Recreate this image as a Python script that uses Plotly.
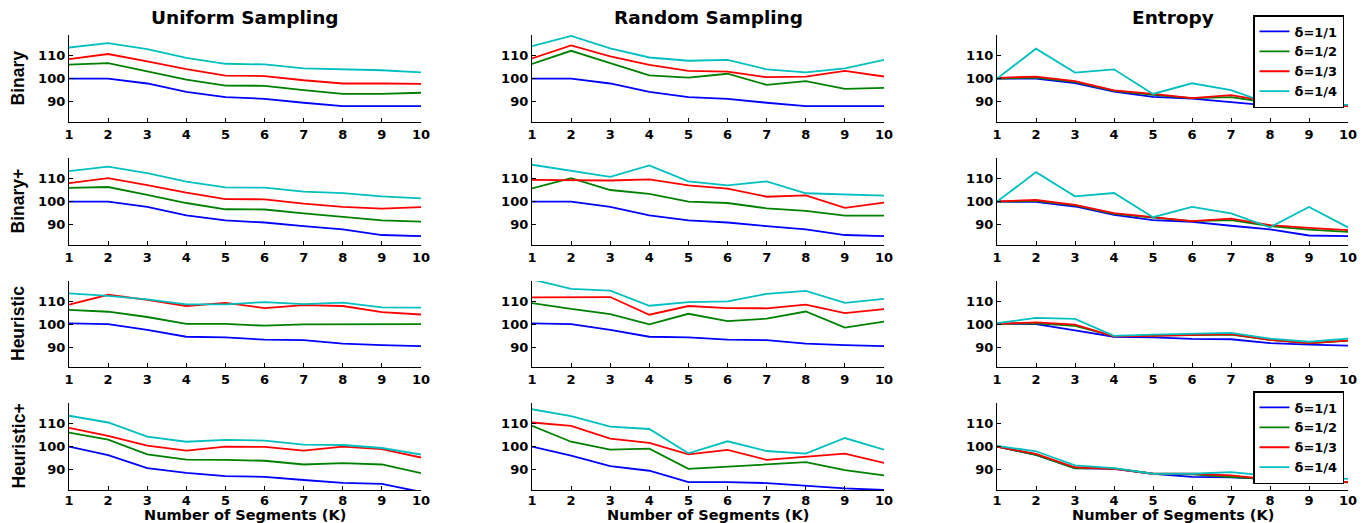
import plotly.graph_objects as go

K = list(range(1, 11))
deltas = ["δ=1/1", "δ=1/2", "δ=1/3", "δ=1/4"]
colors = ["#0000FF", "#008000", "#FF0000", "#00BFBF"]
col_titles = ["Uniform Sampling", "Random Sampling", "Entropy"]
row_titles = ["Binary", "Binary+", "Heuristic", "Heuristic+"]
y_ticks = [90, 100, 110]
x_title = "Number of Segments (K)"

# each panel: [δ=1/1, δ=1/2, δ=1/3, δ=1/4]
binary_uniform = [
    [100, 100, 97.9, 94.3, 92.0, 91.3, 89.6, 88.1, 88.1, 88.1],
    [106, 106.7, 103.1, 99.6, 97.0, 96.9, 95.0, 93.4, 93.4, 93.9],
    [108.4, 110.6, 107.4, 104.1, 101.3, 101.1, 99.3, 97.9, 97.9, 97.7],
    [113.4, 115.3, 112.7, 108.9, 106.4, 106.1, 104.4, 103.9, 103.6, 102.7],
]
binary_random = [
    [100, 100, 97.9, 94.3, 92.0, 91.3, 89.6, 88.1, 88.1, 88.1],
    [106.3, 112.0, 106.7, 101.4, 100.4, 102.1, 97.3, 98.9, 95.6, 96.0],
    [108.7, 114.3, 109.6, 105.9, 103.3, 103.0, 100.6, 100.9, 103.3, 100.9],
    [114.0, 118.4, 113.0, 109.1, 107.7, 108.1, 104.0, 102.7, 104.4, 108.1],
]
binary_entropy = [
    [100, 100, 98.1, 94.4, 92.1, 91.4, 89.9, 88.4, 88.4, 88.4],
    [100, 100.4, 98.6, 94.7, 93.0, 91.6, 92.0, 89.6, 88.3, 88.3],
    [100.3, 100.9, 98.9, 94.9, 93.4, 91.6, 92.9, 90.1, 88.4, 88.2],
    [100, 112.9, 102.6, 104.0, 93.4, 98.0, 95.0, 89.1, 88.7, 88.7],
]
binaryp_uniform = [
    [100, 100, 97.7, 94.1, 91.9, 91.0, 89.4, 88.0, 85.6, 85.1],
    [105.9, 106.3, 102.9, 99.4, 96.7, 96.6, 94.9, 93.3, 91.9, 91.4],
    [108.0, 110.1, 107.1, 103.9, 101.1, 101.0, 99.1, 97.7, 97.0, 97.6],
    [113.1, 115.1, 112.3, 108.6, 106.1, 106.0, 104.3, 103.7, 102.3, 101.4],
]
binaryp_random = [
    [100, 100, 97.7, 94.1, 91.9, 91.0, 89.4, 88.0, 85.6, 85.1],
    [105.7, 110.1, 105.0, 103.3, 100.0, 99.4, 97.1, 96.0, 94.0, 94.0],
    [109.4, 109.1, 109.1, 109.6, 107.0, 105.6, 102.1, 102.7, 97.3, 99.6],
    [115.9, 113.3, 110.7, 115.6, 108.7, 107.0, 108.7, 103.6, 103.1, 102.6],
]
binaryp_entropy = [
    [100, 99.9, 97.9, 94.3, 92.0, 91.3, 89.6, 88.0, 85.4, 85.1],
    [100, 100.3, 98.4, 94.7, 93.1, 91.6, 92.0, 89.4, 87.9, 87.0],
    [100.1, 100.7, 98.6, 95.0, 93.3, 91.6, 92.7, 89.9, 88.7, 87.7],
    [100, 112.7, 102.3, 103.7, 93.3, 97.7, 94.9, 88.9, 97.7, 88.9],
]
heur_uniform = [
    [100.3, 100, 97.5, 94.5, 94.2, 93.2, 93.0, 91.5, 90.8, 90.4],
    [106.2, 105.4, 103.1, 100.1, 100.1, 99.3, 99.9, 100, 100, 100],
    [108.5, 112.8, 110.6, 107.9, 109.3, 107.0, 108.3, 107.9, 105.2, 104.2],
    [113.4, 112.3, 110.8, 108.6, 108.6, 109.6, 108.7, 109.4, 107.3, 107.2],
]
heur_random = [
    [100.3, 100, 97.5, 94.5, 94.2, 93.2, 93.0, 91.5, 90.8, 90.4],
    [109.2, 106.6, 104.4, 99.9, 104.5, 101.3, 102.4, 105.5, 98.5, 101.1],
    [111.7, 111.7, 111.8, 104.1, 107.9, 107.0, 106.9, 108.5, 104.8, 106.5],
    [119.5, 115.4, 114.6, 108.0, 109.6, 109.9, 113.2, 114.5, 109.3, 111.0],
]
heur_entropy = [
    [100.3, 100, 97.3, 94.5, 94.2, 93.6, 93.4, 91.7, 91.1, 90.6],
    [100.1, 100.3, 99.2, 94.8, 95.0, 95.2, 95.4, 93.1, 91.6, 92.8],
    [100.1, 100.8, 99.8, 94.7, 94.9, 95.2, 95.6, 93.1, 91.7, 92.8],
    [100.4, 102.7, 102.3, 94.9, 95.4, 95.8, 96.2, 93.7, 92.3, 93.7],
]
heurp_uniform = [
    [100, 96.3, 90.7, 88.7, 87.3, 87.0, 85.6, 84.4, 83.9, 80.5],
    [106.0, 103.0, 96.7, 94.4, 94.3, 93.9, 92.3, 92.9, 92.3, 88.6],
    [108.1, 104.6, 100.4, 98.3, 100.0, 99.9, 98.3, 100.0, 98.9, 95.3],
    [113.3, 110.4, 104.3, 102.1, 102.9, 102.6, 100.9, 100.7, 99.4, 96.6],
]
heurp_random = [
    [100, 96.1, 91.6, 89.6, 84.7, 84.7, 84.3, 83.0, 82.0, 81.3],
    [109.0, 102.1, 98.7, 99.1, 90.4, 91.3, 92.3, 93.3, 89.9, 87.6],
    [110.4, 108.9, 103.4, 101.6, 96.7, 98.6, 94.3, 95.7, 97.0, 93.0],
    [116.1, 113.1, 108.6, 107.6, 97.1, 102.3, 98.1, 97.0, 103.7, 98.7],
]
heurp_entropy = [
    [100, 96.4, 90.7, 90.4, 88.3, 87.0, 86.7, 85.9, 85.1, 84.6],
    [100, 96.4, 90.6, 90.6, 88.3, 88.0, 86.9, 85.9, 85.1, 84.7],
    [100, 96.9, 91.1, 90.4, 88.3, 88.3, 87.6, 85.9, 85.1, 84.7],
    [100.3, 98.0, 91.9, 90.7, 88.3, 88.3, 89.0, 87.4, 86.9, 86.1],
]

panels = [
    [binary_uniform, binary_random, binary_entropy],
    [binaryp_uniform, binaryp_random, binaryp_entropy],
    [heur_uniform, heur_random, heur_entropy],
    [heurp_uniform, heurp_random, heurp_entropy],
]

# page is 1372x523; the html body has an 8px margin, so the figure is made
# smaller and every page coordinate is shifted by that margin
OFF = 8
W, H = 1372 - OFF, 523 - OFF
col_px = [(69, 421), (532, 884), (997, 1348)]
row_px = [(35, 122), (158, 245), (281, 367), (403, 490)]
YR = [81.3, 118.8]
FONT = "DejaVu Sans"
ROWFONT = "Liberation Sans"


def px_x(p):
    return (p - OFF) / W


def px_y(p):
    return 1 - (p - OFF) / H


fig = go.Figure()
layout = dict(
    width=W, height=H, margin=dict(l=0, r=0, t=0, b=0, pad=0),
    paper_bgcolor="white", plot_bgcolor="white",
    font=dict(family=FONT, size=13, color="black", weight="bold"),
)

idx = 0
for r in range(4):
    for c in range(3):
        idx += 1
        xa = "x" if idx == 1 else f"x{idx}"
        ya = "y" if idx == 1 else f"y{idx}"
        for k in range(4):
            leg = None
            show = False
            if c == 2 and r == 0:
                leg, show = "legend", True
            elif c == 2 and r == 3:
                leg, show = "legend2", True
            tr = dict(
                x=K, y=panels[r][c][k], mode="lines", name=deltas[k],
                line=dict(color=colors[k], width=1.8),
                xaxis=xa, yaxis=ya, showlegend=show,
            )
            if leg:
                tr["legend"] = leg
            fig.add_trace(go.Scatter(**tr))
        x0, x1 = col_px[c]
        y0, y1 = row_px[r]
        axis_common = dict(
            showline=True, linecolor="black", linewidth=1.3, mirror=False,
            showgrid=False, zeroline=False, ticks="inside", ticklen=4,
            tickcolor="black", tickwidth=1, automargin=False,
            tickfont=dict(family=FONT, size=13, color="black", weight="bold"),
        )
        layout["xaxis" if idx == 1 else f"xaxis{idx}"] = dict(
            domain=[px_x(x0), px_x(x1)], anchor=ya, range=[1, 10],
            tickvals=K, ticklabelstandoff=(-2 if r == 3 else 0),
            **axis_common,
        )
        layout["yaxis" if idx == 1 else f"yaxis{idx}"] = dict(
            domain=[px_y(y1), px_y(y0)], anchor=xa, range=YR,
            tickvals=y_ticks, **axis_common,
        )

annotations = []
for c in range(3):
    cx = px_x((col_px[c][0] + col_px[c][1]) / 2)
    annotations.append(dict(
        text=col_titles[c], x=cx, y=px_y(18), xref="paper", yref="paper",
        showarrow=False, xanchor="center", yanchor="middle",
        font=dict(family=FONT, size=18.5, color="black", weight="bold"),
    ))
    annotations.append(dict(
        text=x_title, x=cx, y=px_y(514.5), xref="paper", yref="paper",
        showarrow=False, xanchor="center", yanchor="middle",
        font=dict(family=FONT, size=14.5, color="black", weight="bold"),
    ))
for r in range(4):
    cy = px_y((row_px[r][0] + row_px[r][1]) / 2)
    annotations.append(dict(
        text=row_titles[r], x=px_x(18), y=cy, xref="paper", yref="paper",
        showarrow=False, xanchor="center", yanchor="middle", textangle=-90,
        font=dict(family=ROWFONT, size=17.5, color="black", weight="bold"),
    ))
layout["annotations"] = annotations

leg_common = dict(
    xref="paper", yref="paper", xanchor="right", yanchor="top",
    bgcolor="white", bordercolor="black", borderwidth=1.5,
    font=dict(family=FONT, size=13, color="black", weight="bold"),
    tracegroupgap=0, itemwidth=30,
)
layout["legend"] = dict(x=px_x(1344), y=px_y(15), **leg_common)
layout["legend2"] = dict(x=px_x(1344), y=px_y(391), **leg_common)

fig.update_layout(**layout)
fig.write_html("out.html")
